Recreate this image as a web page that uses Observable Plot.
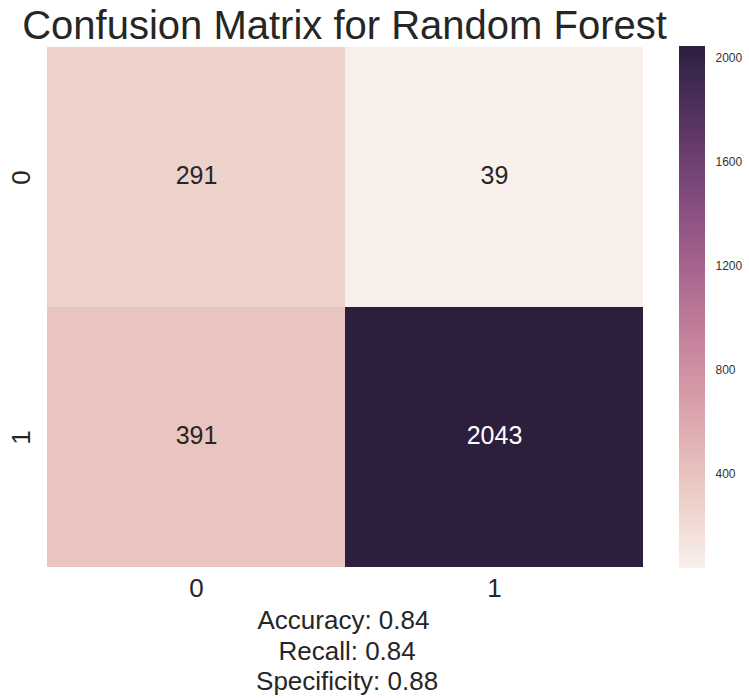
<!DOCTYPE html>
<html>
<head>
<meta charset="utf-8">
<script src="https://cdn.jsdelivr.net/npm/d3@7"></script>
<script src="https://cdn.jsdelivr.net/npm/@observablehq/plot@0.6"></script>
<style>
  body { margin: 0; background: #fff; font-family: "Liberation Sans", Arial, sans-serif; color: #262626; }
  #wrap { position: relative; width: 749px; height: 698px; overflow: hidden; background: #fff; }
  #title { position: absolute; left: 0; top: 1px; width: 689px; text-align: center; font-size: 40px; line-height: 48px; white-space: nowrap; }
  #main { position: absolute; left: 0; top: 40px; }
  #cbar { position: absolute; left: 679px; top: 40px; }
  #caption { position: absolute; left: 0; top: 605px; width: 687px; text-align: center; font-size: 26px; line-height: 30.6px; white-space: pre; }
  #main svg, #cbar svg { display: block; }
</style>
</head>
<body>
<div id="wrap">
  <div id="title"></div>
  <div id="main"></div>
  <div id="cbar"></div>
  <div id="caption"></div>
</div>
<script>
// ---- data ----
const titleText = "Confusion Matrix for Random Forest";
const classLabels = ["0", "1"];
const actualClass = ["0", "0", "1", "1"];
const predictedClass = ["0", "1", "0", "1"];
const counts = [291, 39, 391, 2043];
const colorbarTicks = [400, 800, 1200, 1600, 2000];
const captionLines = ["Accuracy: 0.84", " Recall: 0.84", " Specificity: 0.88"];

// ---- seaborn (old default) cubehelix_palette(light=.95, as_cmap=True) ----
function snsCubehelix(t) {
  const light = 0.95, dark = 0.15, start = 0, rot = 0.4, hue = 0.8, gamma = 1;
  const x = light + (dark - light) * Math.max(0, Math.min(1, t));
  const xg = Math.pow(x, gamma);
  const a = hue * xg * (1 - xg) / 2;
  const phi = 2 * Math.PI * (start / 3 + rot * x);
  const c = Math.cos(phi), s = Math.sin(phi);
  const cl = v => Math.max(0, Math.min(1, v)) * 255;
  const r = xg + a * (-0.14861 * c + 1.78277 * s);
  const g = xg + a * (-0.29227 * c - 0.90649 * s);
  const b = xg + a * (1.97294 * c);
  return d3.rgb(cl(r), cl(g), cl(b)).formatHex();
}

const [vmin, vmax] = d3.extent(counts);
const colorScale = { type: "linear", domain: [vmin, vmax], interpolate: () => snsCubehelix };

const cells = counts.map((v, i) => ({ actual: actualClass[i], predicted: predictedClass[i], count: v }));

function textColor(v) {
  const c = d3.rgb(snsCubehelix((v - vmin) / (vmax - vmin)));
  const lin = u => { u /= 255; return u <= 0.03928 ? u / 12.92 : Math.pow((u + 0.055) / 1.055, 2.4); };
  const l = 0.2126 * lin(c.r) + 0.7152 * lin(c.g) + 0.0722 * lin(c.b);
  return l > 0.408 ? "#262626" : "#ffffff";
}

document.getElementById("title").textContent = titleText;
document.getElementById("caption").textContent = captionLines.join("\n");

const main = Plot.plot({
  width: 660,
  height: 567,
  marginTop: 7,
  marginBottom: 40,
  marginLeft: 46,
  marginRight: 17,
  style: { fontFamily: "Liberation Sans, Arial, sans-serif", fontSize: "26px", color: "#262626", background: "white" },
  x: { domain: classLabels, padding: 0, label: null, tickSize: 0, tickPadding: 11 },
  y: { domain: classLabels, padding: 0, label: null, tickSize: 0, tickPadding: 17, tickRotate: -90 },
  color: colorScale,
  marks: [
    Plot.cell(cells, { x: "predicted", y: "actual", fill: "count", inset: 0, shapeRendering: "crispEdges" }),
    Plot.text(cells, { x: "predicted", y: "actual", text: d => String(d.count), fill: d => textColor(d.count), fontSize: 25, dy: -2 })
  ]
});
document.getElementById("main").append(main);

const nBands = 256;
const bands = d3.range(nBands).map(i => ({
  y1: vmin + (vmax - vmin) * i / nBands,
  y2: vmin + (vmax - vmin) * (i + 1) / nBands,
  v: vmin + (vmax - vmin) * (i + 0.5) / nBands
}));

const cbar = Plot.plot({
  width: 70,
  height: 567,
  marginTop: 6,
  marginBottom: 39,
  marginLeft: 0,
  marginRight: 44,
  style: { fontFamily: "Liberation Sans, Arial, sans-serif", fontSize: "12px", color: "#333333", background: "white" },
  x: { domain: [0, 1], axis: null },
  y: { domain: [vmin, vmax], axis: "right", ticks: colorbarTicks, tickSize: 0, tickPadding: 10, label: null, tickFormat: d => String(d) },
  color: colorScale,
  marks: [
    Plot.rect(bands, { x1: 0, x2: 1, y1: "y1", y2: "y2", fill: "v", shapeRendering: "crispEdges" })
  ]
});
document.getElementById("cbar").append(cbar);
</script>
</body>
</html>
